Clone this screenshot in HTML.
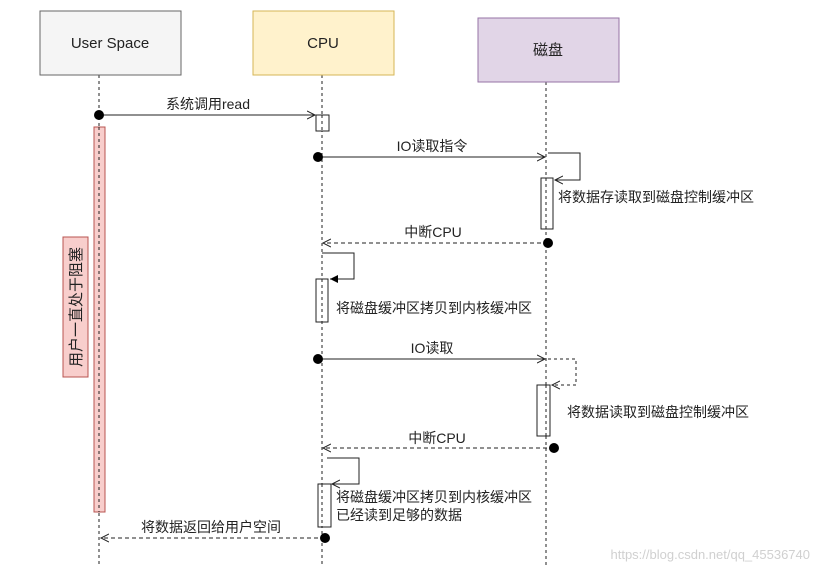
<!DOCTYPE html>
<html><head><meta charset="utf-8"><style>
body{margin:0;background:#fff}
svg text{font-family:"Liberation Sans","Noto Sans CJK SC",sans-serif;font-size:14px;fill:#222}
</style></head><body>
<svg width="819" height="574" xmlns="http://www.w3.org/2000/svg">
<defs>
<marker id="o" markerWidth="10" markerHeight="10" refX="8" refY="5" orient="auto" markerUnits="userSpaceOnUse"><path d="M0,1 L8,5 L0,9" fill="none" stroke="#222" stroke-width="1"/></marker>
<marker id="f" markerWidth="10" markerHeight="10" refX="8" refY="5" orient="auto" markerUnits="userSpaceOnUse"><path d="M0,1 L8,5 L0,9z" fill="#000"/></marker>
</defs>
<g stroke="#222" stroke-dasharray="3,3" stroke-width="1">
<line x1="99" y1="75" x2="99" y2="565"/>
<line x1="322" y1="75" x2="322" y2="565"/>
<line x1="546" y1="82" x2="546" y2="565"/>
</g>
<rect x="40" y="11" width="141" height="64" fill="#f5f5f5" stroke="#666"/>
<text x="110" y="48" text-anchor="middle" style="font-size:15px">User Space</text>
<rect x="253" y="11" width="141" height="64" fill="#fff2cc" stroke="#d6b656"/>
<text x="323" y="48" text-anchor="middle" style="font-size:15px">CPU</text>
<rect x="478" y="18" width="141" height="64" fill="#e1d5e7" stroke="#9673a6"/>
<text x="548" y="55" text-anchor="middle" style="font-size:15px">磁盘</text>

<rect x="94" y="127" width="11" height="385" fill="#f8cecc" stroke="#b85450"/>
<line x1="99" y1="127" x2="99" y2="512" stroke="#222" stroke-dasharray="3,3"/>
<rect x="63" y="237" width="25" height="140" fill="#f8cecc" stroke="#b85450"/>
<text transform="translate(81,307) rotate(-90)" text-anchor="middle" style="font-size:15px">用户一直处于阻塞</text>

<g fill="none" stroke="#222">
<rect x="316" y="115" width="13" height="16" fill="#fff"/>
<rect x="541" y="178" width="12" height="51" fill="#fff"/>
<rect x="316" y="279" width="12" height="43" fill="#fff"/>
<rect x="537" y="385" width="13" height="51" fill="#fff"/>
<rect x="318" y="484" width="13" height="43" fill="#fff"/>
</g>
<g stroke="#222" stroke-dasharray="3,3"><line x1="322" y1="115" x2="322" y2="131"/><line x1="546" y1="178" x2="546" y2="229"/><line x1="322" y1="279" x2="322" y2="322"/><line x1="546" y1="385" x2="546" y2="436"/><line x1="322" y1="484" x2="322" y2="527"/></g>

<g fill="none" stroke="#222" stroke-width="1">
<line x1="99" y1="115" x2="315" y2="115" marker-end="url(#o)"/>
<line x1="318" y1="157" x2="545" y2="157" marker-end="url(#o)"/>
<path d="M548,153 H580 V180 H555" marker-end="url(#o)"/>
<line x1="548" y1="243" x2="323" y2="243" stroke-dasharray="4,3" marker-end="url(#o)"/>
<path d="M322,253 H354 V279 H330" marker-end="url(#f)"/>
<line x1="318" y1="359" x2="545" y2="359" marker-end="url(#o)"/>
<path d="M548,359 H576 V385 H552" stroke-dasharray="3,3" marker-end="url(#o)"/>
<line x1="554" y1="448" x2="323" y2="448" stroke-dasharray="4,3" marker-end="url(#o)"/>
<path d="M327,458 H359 V484 H332" marker-end="url(#o)"/>
<line x1="325" y1="538" x2="101" y2="538" stroke-dasharray="4,3" marker-end="url(#o)"/>
</g>
<g fill="#000">
<circle cx="99" cy="115" r="5"/><circle cx="318" cy="157" r="5"/><circle cx="548" cy="243" r="5"/>
<circle cx="318" cy="359" r="5"/><circle cx="554" cy="448" r="5"/><circle cx="325" cy="538" r="5"/>
</g>
<text x="208" y="109" text-anchor="middle">系统调用read</text>
<text x="432" y="151" text-anchor="middle">IO读取指令</text>
<text x="558" y="202">将数据存读取到磁盘控制缓冲区</text>
<text x="433" y="237" text-anchor="middle">中断CPU</text>
<text x="336" y="313">将磁盘缓冲区拷贝到内核缓冲区</text>
<text x="432" y="353" text-anchor="middle">IO读取</text>
<text x="567" y="417">将数据读取到磁盘控制缓冲区</text>
<text x="437" y="443" text-anchor="middle">中断CPU</text>
<text x="336" y="502">将磁盘缓冲区拷贝到内核缓冲区</text>
<text x="336" y="520">已经读到足够的数据</text>
<text x="211" y="532" text-anchor="middle">将数据返回给用户空间</text>
<text x="810" y="559" text-anchor="end" style="fill:#d0d0d0;font-size:13px">https://blog.csdn.net/qq_45536740</text>
</svg>
</body></html>
